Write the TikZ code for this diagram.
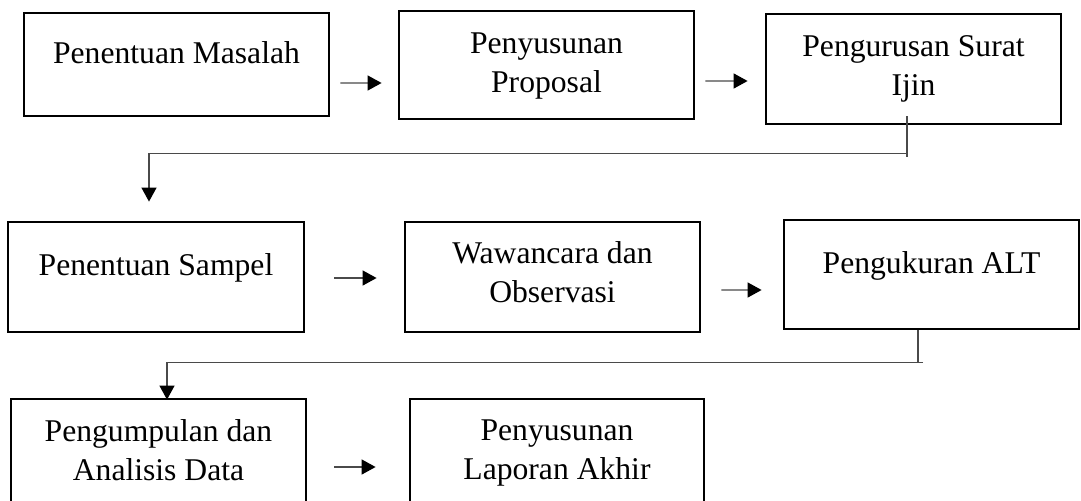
\documentclass[tikz,border=0pt]{standalone}
\usepackage{fontspec}
\setmainfont{Liberation Serif}
\usetikzlibrary{arrows.meta,positioning,calc}
\definecolor{ln}{HTML}{4A4A4A}

\begin{document}
\begin{tikzpicture}[
  box/.style={draw=black, line width=1.6pt, inner sep=0pt, minimum width=5.9cm, minimum height=2.2cm},
  lbl/.style={anchor=north, inner sep=0pt, align=center, font=\fontsize{18}{22}\selectfont},
  line/.style={draw=ln, line width=0.8pt},
  arr/.style={line, -{Triangle[length=0.28cm, width=0.3cm, color=black]}}]
  \clip (0,0) rectangle (21.62,-10.02);
  % first row
  \node[box, minimum width=6.1cm, minimum height=2.06cm] (pm) at (3.53,-1.29) {};
  \node[box, minimum height=2.16cm] (pp) at (10.93,-1.30) {};
  \node[box] (si) at (18.27,-1.38) {};
  \node[lbl] at ([yshift=-0.6cm]pm.north) {Penentuan Masalah};
  \node[lbl] at ([yshift=-0.46cm]pp.north) {Penyusunan\\Proposal};
  \node[lbl] at ([yshift=-0.45cm]si.north) {Pengurusan Surat\\Ijin};
  % second row
  \node[box, minimum width=5.92cm] (ps) at (3.12,-5.54) {};
  \node[box] (wo) at (11.05,-5.54) {};
  \node[box, minimum height=2.18cm] (alt) at (18.63,-5.49) {};
  \node[lbl] at ([yshift=-0.66cm]ps.north) {Penentuan Sampel};
  \node[lbl] at ([yshift=-0.42cm]wo.north) {Wawancara dan\\Observasi};
  \node[lbl] at ([yshift=-0.66cm]alt.north) {Pengukuran ALT};
  % third row
  \node[box] (ad) at (3.17,-9.08) {};
  \node[box, minimum width=5.88cm] (la) at (11.14,-9.08) {};
  \node[lbl] at ([yshift=-0.44cm]ad.north) {Pengumpulan dan\\Analisis Data};
  \node[lbl] at ([yshift=-0.44cm]la.north) {Penyusunan\\Laporan Akhir};
  % arrows
  \draw[arr] ([shift={(0.2,-0.37)}]pm.east) -- ([shift={(-0.32,-0.36)}]pp.west);
  \draw[arr] ([shift={(0.2,-0.32)}]pp.east) -- ([shift={(-0.34,-0.24)}]si.west);
  \draw[arr] ([shift={(0.58,-0.02)}]ps.east) -- ([shift={(-0.54,-0.02)}]wo.west);
  \draw[arr] ([shift={(0.4,-0.26)}]wo.east) -- ([shift={(-0.42,-0.31)}]alt.west);
  \draw[arr] ([shift={(0.54,-0.26)}]ad.east) -- ([shift={(-0.66,-0.26)}]la.west);
  % turns to next row
  \draw[line] ([shift={(-0.13,0.18)}]si.south) -- ++(0,-0.82);
  \draw[arr] ([shift={(-0.13,-0.56)}]si.south) -| ([shift={(-0.14,0.38)}]ps.north);
  \draw[line] ([xshift=-0.27cm]alt.south) -- ++(0,-0.64);
  \draw[arr] ([shift={(-0.17,-0.64)}]alt.south) -| ([shift={(0.17,-0.04)}]ad.north);
\end{tikzpicture}
\end{document}
